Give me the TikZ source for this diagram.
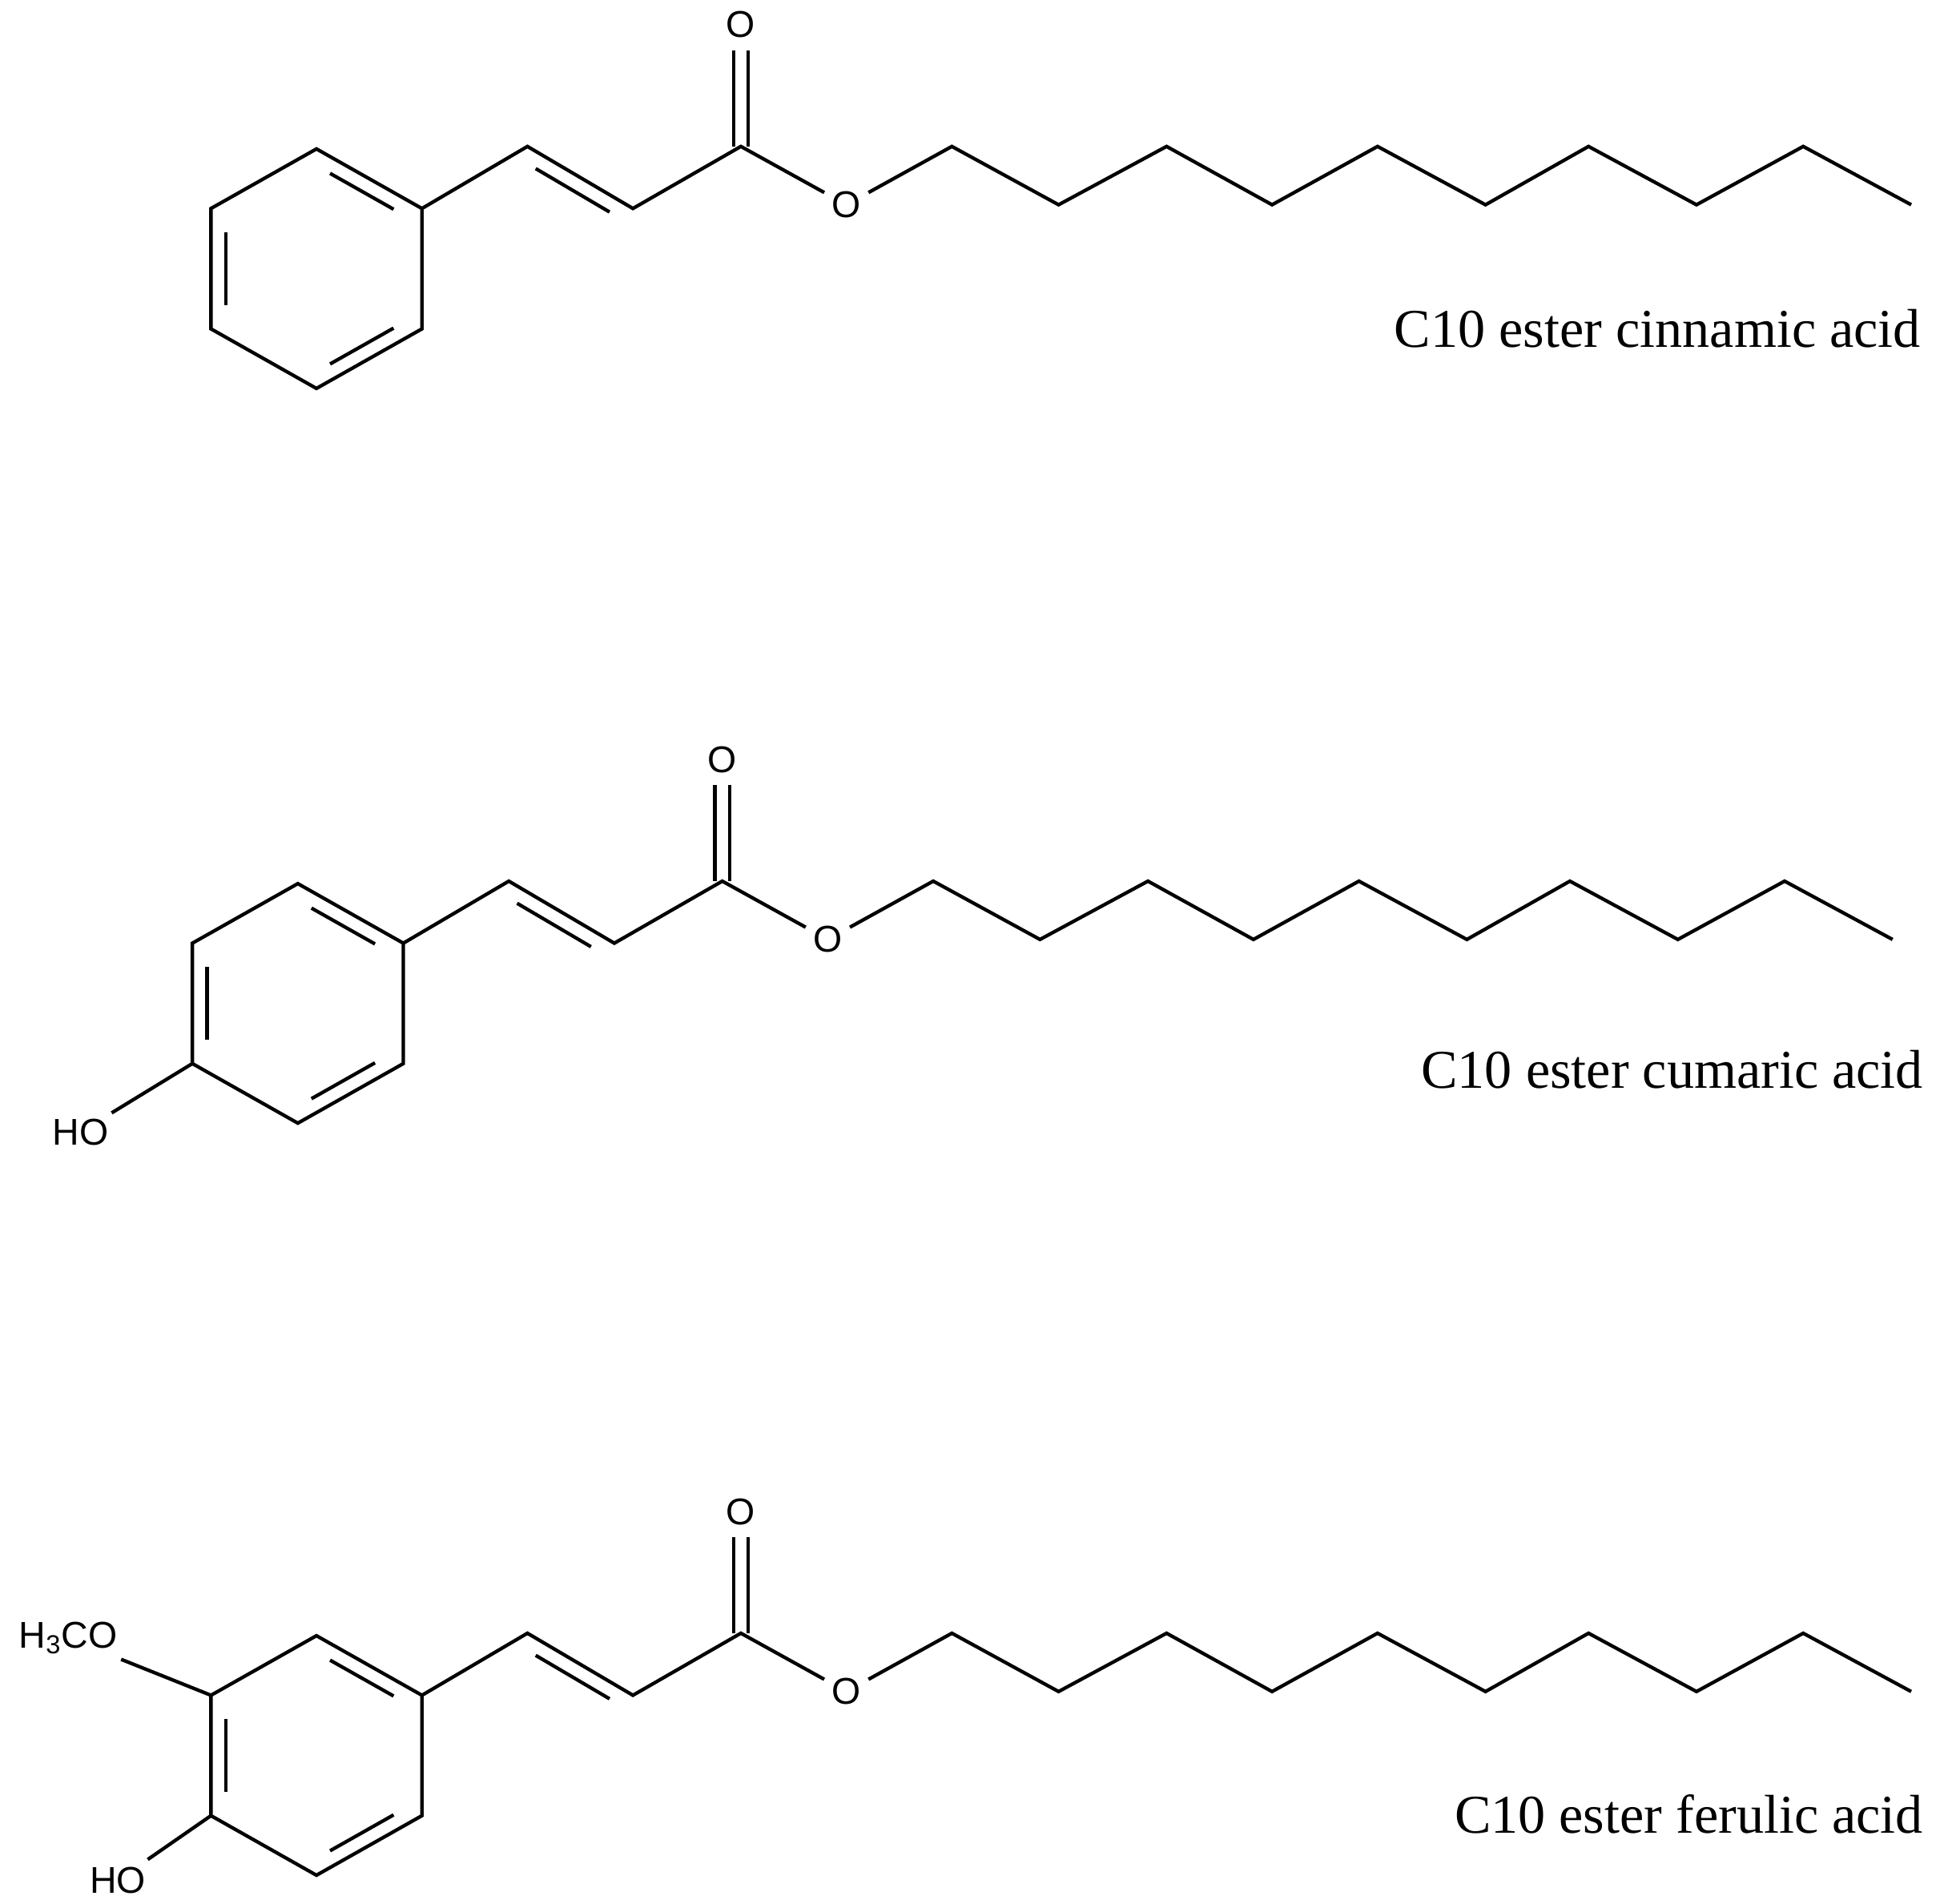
\documentclass[tikz,border=0pt]{standalone}
\usepackage{fontspec}
\setmainfont{Liberation Serif}
\newfontfamily\atomfont{Liberation Sans}
\usetikzlibrary{calc}
\tikzset{bond/.style={line width=1.4pt},
 atom/.style={font=\atomfont\fontsize{15}{15}\selectfont,inner sep=1.5pt,circle},
 caption/.style={font=\fontsize{22}{24}\selectfont,anchor=east,inner sep=0pt}}
\newcommand\ringdbl[3]{\draw[bond] ($(#3)!0.86!($(#1)!0.15!(#2)$)$) -- ($(#3)!0.86!($(#2)!0.15!(#1)$)$);}
\newcommand\molecule[1]{%
 \coordinate (r1) at (255,120); \coordinate (r2) at (340,168); \coordinate (r3) at (340,265);
 \coordinate (r4) at (255,313); \coordinate (r5) at (170,265); \coordinate (r6) at (170,168);
 \coordinate (ctr) at (255,216.5);
 \coordinate (c1) at (425,118); \coordinate (c2) at (510,168); \coordinate (c3) at (597,118);
 \node[atom] (o1) at (597,20) {O};
 \node[atom] (o2) at (682,165) {O};
 \draw[bond] (r1)--(r2)--(r3)--(r4)--(r5)--(r6)--cycle;
 \ringdbl{r6}{r5}{ctr}\ringdbl{r1}{r2}{ctr}\ringdbl{r3}{r4}{ctr}
 \draw[bond] (r2)--(c1)--(c2)--(c3)--(o2);
 \draw[bond] ($(c1)!0.15!(c2)!6pt!-90:(c2)$) -- ($(c2)!0.15!(c1)!6pt!90:(c1)$);
 \draw[bond] ([xshift=-3pt]c3) -- ([xshift=-3pt]o1.south);
 \draw[bond] ([xshift=3pt]c3) -- ([xshift=3pt]o1.south);
 \draw[bond] (o2) -- (767,118) -- (853,165) -- (940,118) -- (1025,165) -- (1110,118)
   -- (1197,165) -- (1280,118) -- (1367,165) -- (1453,118) -- (1540,165);
 #1}
\begin{document}
\begin{tikzpicture}[x=0.5pt,y=-0.5pt]
\useasboundingbox (0,0) rectangle (1560,1534);
\begin{scope}[name prefix=a-]
 \molecule{}
\end{scope}
\node[caption] (t1) at (1548,265) {C10 ester cinnamic acid};
\begin{scope}[shift={(-15,592)},name prefix=b-]
 \molecule{\node[atom] (ho) at (80,320) {HO}; \draw[bond] (r5) -- (ho);}
\end{scope}
\node[caption] (t2) at (1550,862) {C10 ester cumaric acid};
\begin{scope}[shift={(0,1198)},name prefix=c-]
 \molecule{\node[atom] (ho) at (95,317) {HO}; \draw[bond] (r5) -- (ho);
 \node[atom] (meo) at (55,122) {H\textsubscript{3}CO}; \draw[bond] (r6) -- (meo);}
\end{scope}
\node[caption] (t3) at (1550,1462) {C10 ester ferulic acid};
\end{tikzpicture}
\end{document}
